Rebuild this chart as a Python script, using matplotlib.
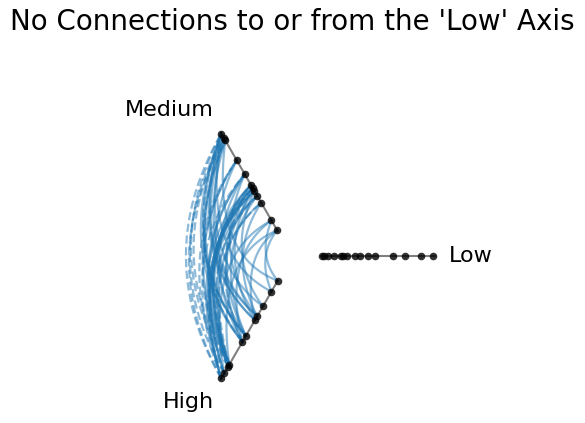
import numpy as np
import matplotlib.pyplot as plt

# hive plot: three axes, node positions normalised on [0, 1]
axis_names = ["Low", "Medium", "High"]
axis_angles = [0, 120, 240]
low_pos = [0.01, 0.03, 0.07, 0.12, 0.18, 0.20, 0.23, 0.30, 0.35, 0.42, 0.48, 0.64, 0.74, 0.88, 0.99]
medium_pos = [0.99, 0.95, 0.92, 0.72, 0.58, 0.47, 0.44, 0.41, 0.36, 0.29, 0.11, 0.01]
high_pos = [0.00, 0.11, 0.26, 0.36, 0.40, 0.56, 0.62, 0.85, 0.87, 0.94, 0.99]

# edges Medium -> High (medium index, high index), drawn solid
med_to_high = [(0, 5), (0, 6), (0, 3), (0, 1), (0, 4),
               (1, 5), (1, 2), (1, 4),
               (2, 6), (2, 3), (2, 0),
               (3, 7), (3, 5),
               (4, 8), (4, 7), (4, 3), (4, 6),
               (5, 10), (5, 8), (5, 5), (5, 7),
               (6, 9), (6, 7), (6, 4), (6, 8),
               (7, 10), (7, 6), (7, 2), (7, 9),
               (8, 10), (8, 7), (8, 5),
               (9, 8), (9, 3),
               (10, 9), (10, 6), (10, 0),
               (11, 7), (11, 1), (11, 4)]
# edges High -> Medium (high index, medium index), drawn dashed
high_to_med = [(10, 0), (9, 1), (8, 0), (10, 2), (7, 1), (9, 3), (10, 4),
               (8, 3), (7, 5), (9, 6), (6, 2), (10, 7), (5, 0), (8, 8),
               (6, 6), (7, 9)]

start, end = 1, 5


def polar(v, angle):
    r = start + (end - start) * v
    a = np.radians(angle)
    return np.array([r * np.cos(a), r * np.sin(a)])


def curve(p0, a0, p1, a1, n=100):
    # quadratic bezier, control point on the mid angle at the mean radius
    r0 = np.hypot(*p0)
    r1 = np.hypot(*p1)
    mid = np.radians((a0 + a1) / 2)
    rc = (r0 + r1) / 2
    c = np.array([rc * np.cos(mid), rc * np.sin(mid)])
    t = np.linspace(0, 1, n)[:, None]
    pts = (1 - t) ** 2 * p0 + 2 * (1 - t) * t * c + t ** 2 * p1
    return pts[:, 0], pts[:, 1]


fig = plt.figure(figsize=(5.85, 4.23), dpi=100)
ax = fig.add_axes([0, 0, 1, 1])
scale = 28.5
ax.set_xlim(-292 / scale, 293 / scale)
ax.set_ylim(-167 / scale, 256 / scale)
ax.axis("off")

node_pos = {"Low": low_pos, "Medium": medium_pos, "High": high_pos}

for i, j in med_to_high:
    x, y = curve(polar(medium_pos[i], 120), 120, polar(high_pos[j], 240), 240)
    ax.plot(x, y, color="C0", alpha=0.5, lw=1.6, zorder=1)

for i, j in high_to_med:
    x, y = curve(polar(high_pos[i], 240), 240, polar(medium_pos[j], 120), 120)
    ax.plot(x, y, color="C0", alpha=0.5, lw=1.6, ls="--", zorder=1)

for name, ang in zip(axis_names, axis_angles):
    p0 = polar(0, ang)
    p1 = polar(1, ang)
    ax.plot([p0[0], p1[0]], [p0[1], p1[1]], color="black", alpha=0.5, lw=1.5, zorder=2)
    pts = np.array([polar(v, ang) for v in node_pos[name]])
    ax.scatter(pts[:, 0], pts[:, 1], s=30, color="black", alpha=0.8, zorder=3, linewidths=0)

ax.text(*polar(1.125, 0), "Low", ha="left", va="center", fontsize=16)
ax.text(*polar(1.125, 120), "Medium", ha="right", va="bottom", fontsize=16)
ax.text(*polar(1.125, 240), "High", ha="right", va="top", fontsize=16)

fig.suptitle("No Connections to or from the 'Low' Axis", fontsize=20, y=0.948, va="center")

fig.savefig("out.png", dpi=100)
